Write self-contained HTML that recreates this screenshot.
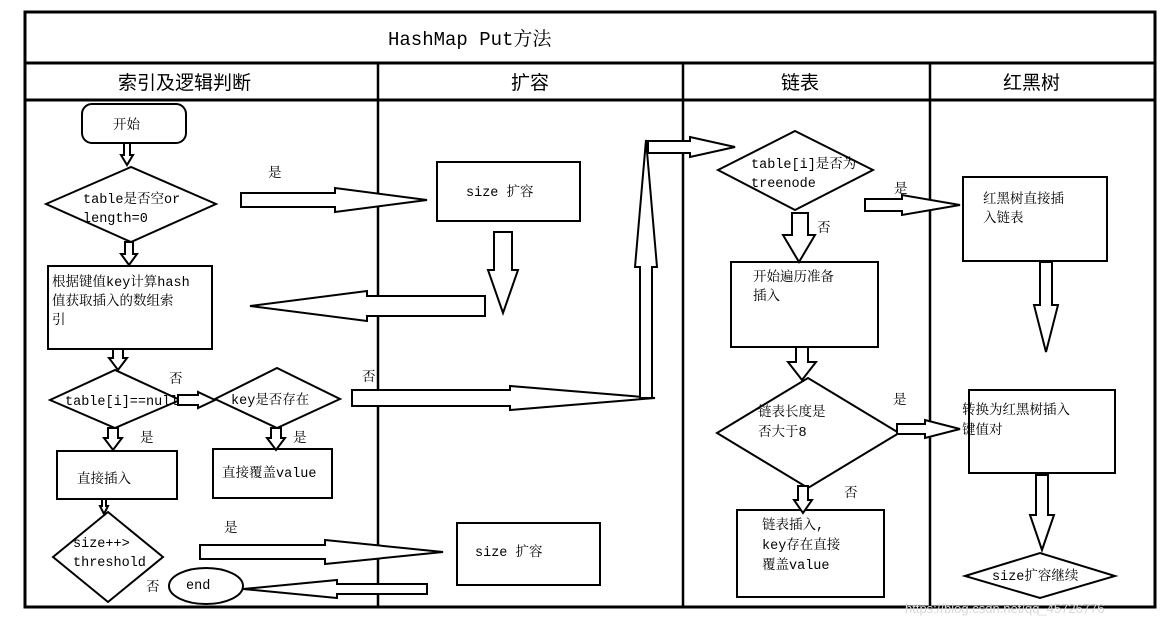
<!DOCTYPE html>
<html><head><meta charset="utf-8"><style>
body{margin:0;background:#fff;}
svg{display:block}
text{font-family:"Liberation Mono","Noto Serif CJK SC",monospace;font-size:13.5px;fill:#000}
.h{font-family:"Liberation Sans","Noto Sans CJK SC",sans-serif;font-size:19px}
</style></head><body>
<svg width="1172" height="628" viewBox="0 0 1172 628" xmlns="http://www.w3.org/2000/svg">
<g fill="none" stroke="#000">
<rect x="25" y="12" width="1130" height="595" stroke-width="3"/>
<line x1="25" y1="63" x2="1155" y2="63" stroke-width="3"/>
<line x1="25" y1="100" x2="1155" y2="100" stroke-width="3"/>
<line x1="378" y1="63" x2="378" y2="607" stroke-width="2.5"/>
<line x1="683" y1="63" x2="683" y2="607" stroke-width="2.5"/>
<line x1="930" y1="63" x2="930" y2="607" stroke-width="2.5"/>
</g>
<text x="388" y="45" class="h" style="font-family:'Liberation Mono','Noto Serif CJK SC',monospace;font-size:19px">HashMap Put方法</text>
<text x="118" y="89" class="h">索引及逻辑判断</text>
<text x="511" y="89" class="h">扩容</text>
<text x="781" y="89" class="h">链表</text>
<text x="1003" y="89" class="h">红黑树</text>

<g fill="#fff" stroke="#000" stroke-width="2">
<rect x="82" y="104" width="104" height="39" rx="10"/>
<polygon points="46,204 131,167 216,204 131,242"/>
<rect x="48" y="266" width="164" height="83"/>
<rect x="437" y="162" width="143" height="59"/>
<polygon points="50,400 115,370 180,400 115,428"/>
<polygon points="215,399 277,368 340,399 277,428"/>
<rect x="57" y="451" width="120" height="48"/>
<rect x="213" y="449" width="119" height="49"/>
<polygon points="53,557 108,512 163,557 108,602"/>
<rect x="457" y="523" width="143" height="62"/>
<ellipse cx="206" cy="586" rx="37" ry="18"/>
<polygon points="718,170 795,131 873,170 795,210"/>
<rect x="963" y="177" width="144" height="84"/>
<rect x="731" y="262" width="147" height="85"/>
<polygon points="717,433 808,378 899,433 808,488"/>
<rect x="969" y="390" width="146" height="83"/>
<rect x="737" y="510" width="147" height="87"/>
<polygon points="965,576 1040,553 1115,576 1040,598"/>

<polygon points="241,193 335,193 335,188 427,200 335,212 335,207 241,207"/>
<polygon points="485,296 367,296 367,291 250,306 367,321 367,316 485,316"/>
<polygon points="352,390 510,390 510,386 655,398 510,410 510,406 352,406"/>
<polygon points="640,398 640,267 635,267 646,140 657,267 652,267 652,398"/>
<polygon points="648,141 690,141 690,137 735,147 690,157 690,153 648,153"/>
<polygon points="178,395 198,395 198,392 215,400 198,408 198,405 178,405"/>
<polygon points="200,545 325,545 325,540 443,552 325,564 325,559 200,559"/>
<polygon points="427,584 337,584 337,580 243,589 337,598 337,594 427,594"/>
<polygon points="865,199 902,199 902,195 960,205 902,215 902,211 865,211"/>
<polygon points="897,424 925,424 925,420 960,429 925,438 925,434 897,434"/>
<polygon points="124,143 124,155 121,155 127,165 133,155 130,155 130,143"/>
<polygon points="125,242 125,254 121,254 129,265 137,254 133,254 133,242"/>
<polygon points="494,232 494,270 488,270 503,313 518,270 512,270 512,232"/>
<polygon points="113,349 113,358 109,358 118,370 127,358 123,358 123,349"/>
<polygon points="108,428 108,438 104,438 113,450 122,438 118,438 118,428"/>
<polygon points="271,428 271,438 267,438 276,450 285,438 281,438 281,428"/>
<polygon points="102,499 102,506 100,506 104,514 108,506 106,506 106,499"/>
<polygon points="792,213 792,235 783,235 799,262 815,235 808,235 808,213"/>
<polygon points="796,347 796,362 788,362 802,380 816,362 808,362 808,347"/>
<polygon points="798,486 798,500 794,500 803,513 812,500 808,500 808,486"/>
<polygon points="1040,262 1040,305 1034,305 1046,352 1058,305 1052,305 1052,262"/>
<polygon points="1036,475 1036,515 1030,515 1042,550 1054,515 1048,515 1048,475"/>
</g>

<text x="113" y="129">开始</text>
<text x="83" y="203">table是否空or</text>
<text x="83" y="222">length=0</text>
<text x="268" y="177">是</text>
<text x="52" y="286">根据键值key计算hash</text>
<text x="52" y="305">值获取插入的数组索</text>
<text x="52" y="324">引</text>
<text x="466" y="196">size  扩容</text>
<text x="65" y="405">table[i]==null</text>
<text x="169" y="383">否</text>
<text x="231" y="404">key是否存在</text>
<text x="362" y="381">否</text>
<text x="140" y="442">是</text>
<text x="293" y="442">是</text>
<text x="77" y="483">直接插入</text>
<text x="222" y="477">直接覆盖value</text>
<text x="73" y="547">size++&gt;</text>
<text x="73" y="566">threshold</text>
<text x="224" y="532">是</text>
<text x="146" y="591">否</text>
<text x="186" y="589">end</text>
<text x="475" y="556">size  扩容</text>
<text x="751" y="168">table[i]是否为</text>
<text x="751" y="187">treenode</text>
<text x="894" y="193">是</text>
<text x="817" y="232">否</text>
<text x="983" y="203">红黑树直接插</text>
<text x="983" y="222">入链表</text>
<text x="753" y="281">开始遍历准备</text>
<text x="753" y="300">插入</text>
<text x="758" y="416">链表长度是</text>
<text x="758" y="436">否大于8</text>
<text x="893" y="404">是</text>
<text x="844" y="497">否</text>
<text x="762" y="529">链表插入,</text>
<text x="762" y="549">key存在直接</text>
<text x="762" y="569">覆盖value</text>
<text x="962" y="414">转换为红黑树插入</text>
<text x="962" y="434">键值对</text>
<text x="992" y="580">size扩容继续</text>
<text x="905" y="613" style="fill:#d8d8d8;font-family:'Liberation Sans',sans-serif;font-size:13px">https://blog.csdn.net/qq_45726776</text>
</svg>
</body></html>
